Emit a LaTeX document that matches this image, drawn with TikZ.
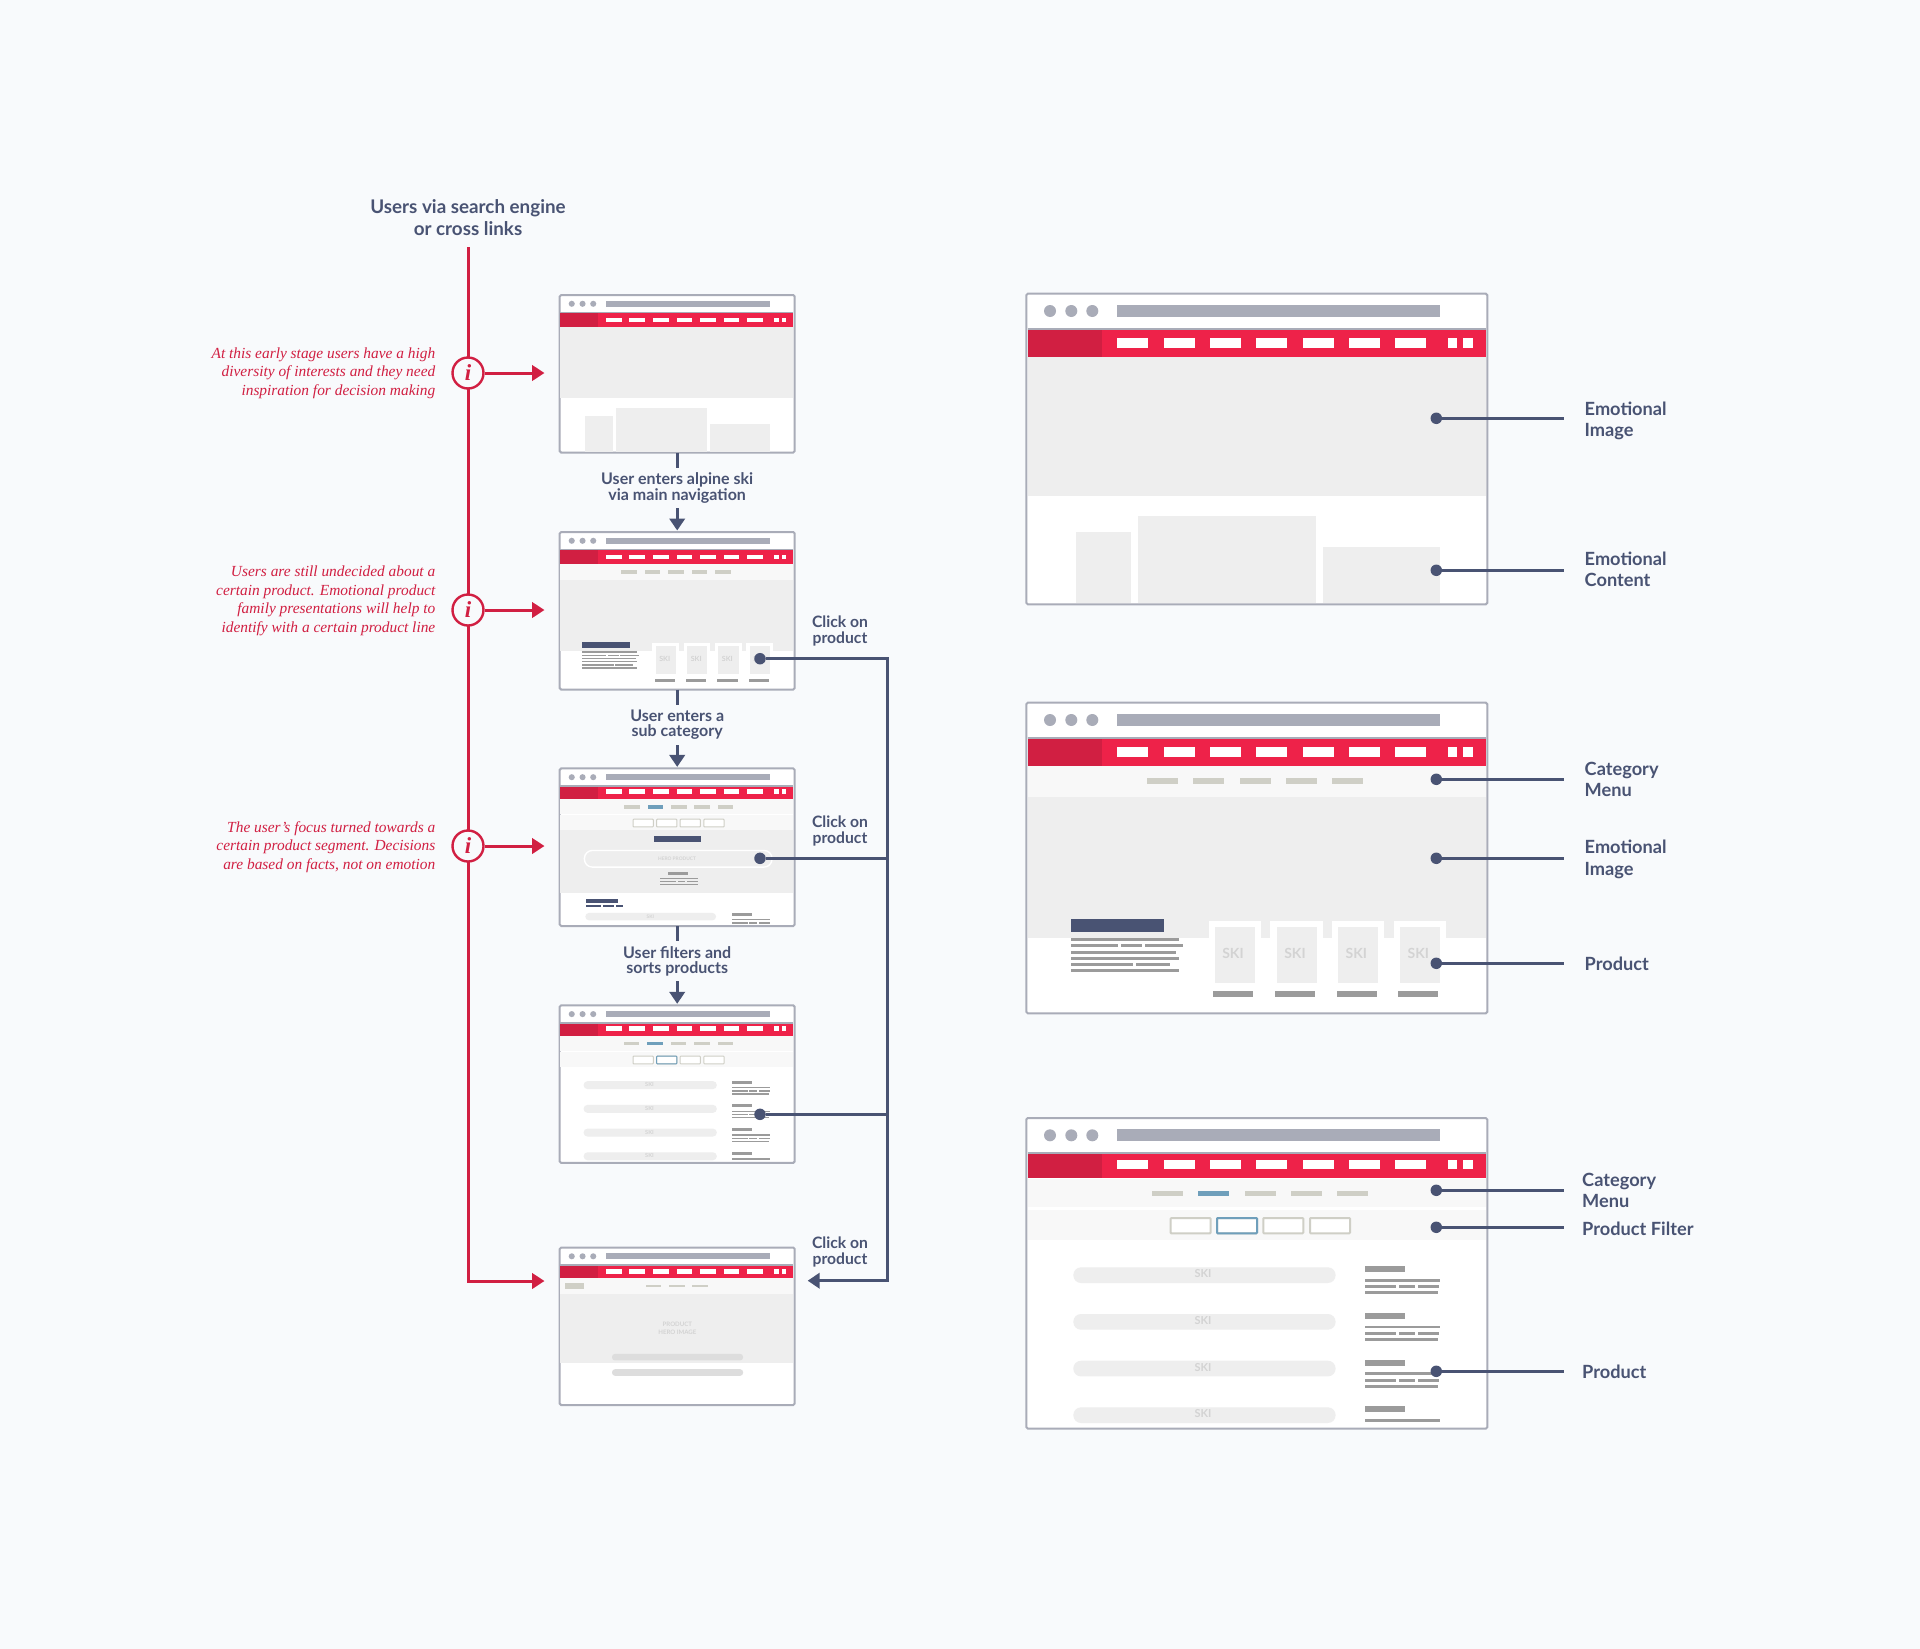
\documentclass[tikz,border=0pt]{standalone}
\usepackage{fontspec}
\setmainfont{Lato}
\newfontfamily\notefont{Liberation Serif}
\definecolor{pagebg}{HTML}{F8FAFC}
\definecolor{slate}{HTML}{495373}
\definecolor{crimson}{HTML}{D11F42}
\definecolor{signal}{HTML}{EE2249}
\definecolor{wireline}{HTML}{A9ACB8}
\definecolor{wirepanel}{HTML}{EEEEEE}
\definecolor{wireband}{HTML}{F8F8F8}
\definecolor{wirerule}{HTML}{9B9B9B}
\definecolor{wiremute}{HTML}{CFCFC6}
\definecolor{wireblue}{HTML}{6F9FBB}
\definecolor{wiretext}{HTML}{D3D3D3}
\definecolor{wirepill}{HTML}{DDDDDD}
\usetikzlibrary{arrows.meta,positioning}
\tikzset{
  shotbig/.style={draw=wireline,fill=white,line width=2pt,rounded corners=1.5pt,inner sep=0pt,outer sep=0pt,minimum width=461pt,minimum height=310.6pt},
  shotsmall/.style={shotbig,minimum width=235pt,minimum height=157.6pt},
  thumb/.style={scale=0.508,filterpen/.style={line width=1pt},rowpill/.style={rounded corners=3.9pt}},
  filterpen/.style={line width=2pt},
  rowpill/.style={rounded corners=7.7pt},
  skitext/.style={transform shape,text=wiretext,inner sep=0pt,font=\bfseries\fontsize{14}{14}\selectfont},
  flowline/.style={slate,line width=2.8pt},
  flowarrow/.style={flowline,-{Triangle[length=12pt,width=15.4pt]}},
  infoline/.style={crimson,line width=3pt},
  infoarrow/.style={infoline,-{Triangle[length=12.5pt,width=15.4pt]}},
  infomark/.style={circle,draw=crimson,fill=pagebg,line width=2.4pt,minimum size=31pt,inner sep=0pt,text=crimson,font=\notefont\bfseries\itshape\fontsize{23}{23}\selectfont},
  infonote/.style={anchor=east,align=right,inner sep=0pt,text=crimson,font=\notefont\itshape\fontsize{15.4}{18.7}\selectfont},
  headnote/.style={align=center,inner sep=0pt,text=slate,font=\bfseries\fontsize{18.8}{22}\selectfont},
  stepnote/.style={align=center,inner sep=0pt,minimum height=40pt,text=slate,font=\bfseries\fontsize{16}{15.6}\selectfont},
  clicknote/.style={align=center,inner sep=0pt,text=slate,font=\bfseries\fontsize{15.7}{16}\selectfont},
  pindot/.style={circle,fill=slate,minimum size=11.5pt,inner sep=0pt},
  pinline/.style={slate,line width=2.6pt},
  pinlabel/.style={anchor=west,align=left,inner ysep=0pt,inner xsep=20.5pt,text=slate,font=\bfseries\fontsize{18.2}{21.5}\selectfont},
}
% browser head with red bar, #1 is the lower edge of the bar
\newcommand{\wirehead}[1]{
  \foreach \x in {23.7,45,66} \fill[wireline] (\x,17.3) circle (6);
  \fill[wireline] (90.7,11.3) rectangle (413.7,23.3);
  \draw[wireline,line width=2pt] (1.3,35) -- (459.3,35);
  \fill[signal] (1.3,36) rectangle (459.3,#1);
  \fill[crimson] (1.3,36) rectangle (75.3,#1);
  \foreach \x in {91,137.3,183.7,230,276.3,322.7,369} \fill[white] (\x,#1-18.5) rectangle ++(31,9.5);
  \fill[white] (421.7,#1-18.5) rectangle ++(9,9.5);
  \fill[white] (437,#1-18.5) rectangle ++(9.3,9.5);
}
% product text block on the right of a list row
\newcommand{\wireblurb}[1]{
  \fill[wirerule] (338.7,148.3+#1) rectangle (379,154.3+#1);
  \foreach \a/\b/\y in {338.7/414/162.3, 338.7/369.7/168.7, 373/388.3/168.7, 391.7/413/168.7, 338.7/412/174.7}
    \fill[wirerule] (\a,\y-1.4+#1) rectangle (\b,\y+1.4+#1);
}
\newcommand{\wirefilter}[1]{
  \fill[wireband] (1.3,92.3) rectangle (459.3,122);
  \foreach \x in {144.3,190.7,237,283.7} \draw[wiremute,filterpen,fill=white,rounded corners=0.8pt] (\x,100) rectangle ++(40,15.3);
  #1
}
\newcommand{\wirehome}{
  \wirehead{63}
  \fill[wirepanel] (1.3,63) rectangle (459.3,202.3);
  \fill[wirepanel] (50,238.3) rectangle (104.3,309);
  \fill[wirepanel] (111.7,222.3) rectangle (290,309);
  \fill[wirepanel] (296.7,253.7) rectangle (413.7,309);
}
\newcommand{\wirecategory}{
  \wirehead{63}
  \fill[wireband] (1.3,63) rectangle (459.3,94);
  \foreach \x in {120.7,167,213.4,259.7,306} \fill[wiremute] (\x,75.7) rectangle ++(31,6);
  \fill[wirepanel] (1.3,94) rectangle (459.3,235);
  \fill[slate] (44.7,216.3) rectangle (137.7,229);
  \foreach \a/\b/\y in {44.7/153/236.7, 44.7/91.3/243, 94.3/116/243, 119/156.3/243, 44.7/149.7/249.3,
    44.7/153/255.3, 44.7/106.7/261.7, 109.7/143.7/261.7, 44.7/153/268}
    \fill[wirerule] (\a,\y-1.5) rectangle (\b,\y+1.5);
  \foreach \i/\x/\t in {1/182.3/206.7, 2/244/268.7, 3/305.7/330, 4/367.3/392} {
    \fill[white] (\x,218) rectangle ++(52.4,30);
    \fill[wirepanel] (\x+6.4,224.3) rectangle ++(40,56);
    \fill[wirerule] (\x+4.7,288.7) rectangle ++(40,5.6);
    \node[skitext] (skicard\i) at (\t,250.7) {SKI};
  }
}
\newcommand{\wirelist}{
  \wirehead{60}
  \fill[wireband] (1.3,61) rectangle (459.3,89);
  \foreach \x in {125.7,172,218.4,264.7,311} \fill[wiremute] (\x,72.7) rectangle ++(31,5.7);
  \fill[wireblue] (172,72.7) rectangle ++(31,5.7);
  \wirefilter{\draw[wireblue,filterpen,rounded corners=0.8pt] (190.7,100) rectangle ++(40,15.3);}
  \foreach \i/\r in {1/0,2/46.7,3/93.4,4/140} {
    \fill[wirepanel,rowpill] (47,149.3+\r) rectangle (309.3,165+\r);
    \node[skitext,font=\bfseries\fontsize{11}{11}\selectfont] (skirow\i) at (176.7,156+\r) {SKI};
  }
  \foreach \r in {0,46.7,93.4} { \wireblurb{\r} }
  \fill[wirerule] (338.7,288.3) rectangle (379,294.3);
  \fill[wirerule] (338.7,301) rectangle (414,303.8);
}
\newcommand{\wiresegment}{
  \wirehead{60}
  \fill[wireband] (1.3,61) rectangle (459.3,89);
  \foreach \x in {127,173,219,265,311} \fill[wiremute] (\x,73) rectangle ++(31,6);
  \fill[wireblue] (173,73) rectangle ++(31,6);
  \wirefilter{}
  \fill[wirepanel] (1.3,122) rectangle (459.3,246);
  \fill[slate] (186.4,133.9) rectangle (277.6,145.7);
  \draw[white,fill=wirepanel,line width=1.4pt,rounded corners=8pt] (48.6,161.5) rectangle (418,194.3);
  \node[skitext,font=\bfseries\fontsize{9.5}{9.5}\selectfont] (heropill) at (231,177.5) {HERO PRODUCT};
  \fill[wirerule] (213,204) rectangle (253,210);
  \foreach \a/\b/\y in {198/272/216.5, 198/229/222.4, 232/247/222.4, 251/272/222.4, 198/272/229}
    \fill[wirerule] (\a,\y-1.4) rectangle (\b,\y+1.4);
  \fill[slate] (51,257) rectangle (115.5,265.7);
  \foreach \a/\b in {51/82, 85.6/106.6, 110.5/125} \fill[slate] (\a,269.6) rectangle (\b,272.4);
  \fill[wirepanel,rounded corners=3.5pt] (50.5,284.6) rectangle (307.7,299);
  \node[skitext,font=\bfseries\fontsize{9.5}{9.5}\selectfont] (skislim) at (178.5,291.8) {SKI};
  \fill[wirerule] (339,285) rectangle (378.6,290);
  \fill[wirerule] (339,296) rectangle (413,299);
  \foreach \a/\b in {339/370, 373/388, 392/413} \fill[wirerule] (\a,302.6) rectangle (\b,305.4);
}
\newcommand{\wireproduct}{
  \wirehead{60.3}
  \fill[wireband] (1.3,60.3) rectangle (459.3,92);
  \fill[wiremute] (11,70.2) rectangle (48.6,82);
  \foreach \x in {169.3,215,261} \fill[wiremute] (\x,73) rectangle ++(31,5.4);
  \fill[wirepanel] (1.3,92) rectangle (459.3,228.3);
  \node[skitext,align=center,font=\bfseries\fontsize{12}{16}\selectfont] (heroimage) at (231.6,159) {PRODUCT\\HERO IMAGE};
  \fill[wirepill,rounded corners=3pt] (103,209.3) rectangle (361,222.4);
  \fill[wirepill,rounded corners=3pt] (103,239.5) rectangle (361,252.6);
}
\begin{document}
\begin{tikzpicture}[x=1pt,y=-1pt]
  \useasboundingbox (0,0) rectangle (1920,1649);
  \fill[pagebg] (0,0) rectangle (1920,1649);
  % Journey on the left
  \node[shotsmall] (homeshot) at (677.2,373.8) {};
  \node[shotsmall] (alpineshot) at (677.2,610.8) {};
  \node[shotsmall] (segmentshot) at (677.2,847.2) {};
  \node[shotsmall] (listshot) at (677.2,1084.1) {};
  \node[shotsmall] (productshot) at (677.2,1326.3) {};
  \begin{scope}[shift={(homeshot.north west)},thumb] \wirehome \end{scope}
  \begin{scope}[shift={(alpineshot.north west)},thumb] \wirecategory \end{scope}
  \begin{scope}[shift={(segmentshot.north west)},thumb] \wiresegment \end{scope}
  \begin{scope}[shift={(listshot.north west)},thumb] \wirelist \end{scope}
  \begin{scope}[shift={(productshot.north west)},thumb] \wireproduct \end{scope}
  % Steps between the shots
  \node[stepnote,below=15pt of homeshot] (alpinestep) {User enters alpine ski\\via main navigation};
  \node[stepnote,below=15pt of alpineshot] (subcatstep) {User enters a\\sub category};
  \node[stepnote,below=15pt of segmentshot] (filterstep) {User filters and\\sorts products};
  \draw[flowline] (homeshot) -- (alpinestep);
  \draw[flowarrow,shorten >=1.5pt] (alpinestep) -- (alpineshot);
  \draw[flowline] (alpineshot) -- (subcatstep);
  \draw[flowarrow,shorten >=1.5pt] (subcatstep) -- (segmentshot);
  \draw[flowline] (segmentshot) -- (filterstep);
  \draw[flowarrow,shorten >=1.5pt] (filterstep) -- (listshot);
  % Red path with the notes
  \node[headnote] (usershead) at (468,217.5) {Users via search engine\\or cross links};
  \coordinate (usersfoot) at (468,247);
  \coordinate (productred) at (544.5,1281);
  \draw[infoarrow] (usersfoot) |- (productred);
  \foreach \i/\y in {1/373,2/610,3/846} {
    \node[infomark] (info\i) at (468,\y) {i};
    \coordinate (infotip\i) at (544.5,\y);
    \draw[infoarrow] (info\i) -- (infotip\i);
  }
  \node[infonote] (note1) at (435.5,373) {At this early stage users have a high\\diversity of interests and they need\\inspiration for decision making};
  \node[infonote] (note2) at (435.5,600.7) {Users are still undecided about a\\certain product. Emotional product\\family presentations will help to\\identify with a certain product line};
  \node[infonote] (note3) at (435.5,847) {The user’s focus turned towards a\\certain product segment. Decisions\\are based on facts, not on emotion};
  % Click paths into the product page
  \node[pindot] (clickcard) at (760,658.7) {};
  \node[pindot] (clickhero) at (760,858.3) {};
  \node[pindot] (clickrow) at (760,1114.3) {};
  \coordinate (busturn) at (887.3,658.7);
  \coordinate (busfoot) at (887.3,1280.7);
  \coordinate (productin) at (807.7,1280.7);
  \draw[flowarrow,line join=miter] (clickcard) -- (busturn) -- (busfoot) -- (productin);
  \draw[flowline] (clickhero) -- (clickhero -| busturn);
  \draw[flowline] (clickrow) -- (clickrow -| busturn);
  \node[clicknote] (clicknote1) at (840,631) {Click on\\product};
  \node[clicknote] (clicknote2) at (840,831.3) {Click on\\product};
  \node[clicknote] (clicknote3) at (840,1252.3) {Click on\\product};
  % Big shots on the right
  \node[shotbig] (homebig) at (1256.8,449) {};
  \node[shotbig] (categorybig) at (1256.8,858) {};
  \node[shotbig] (listbig) at (1256.8,1273.3) {};
  \begin{scope}[shift={(homebig.north west)}] \wirehome \end{scope}
  \begin{scope}[shift={(categorybig.north west)}] \wirecategory \end{scope}
  \begin{scope}[shift={(listbig.north west)}] \wirelist \end{scope}
  % Pins and labels
  \foreach \n/\y/\d/\t in {imagea/418.3/-2.5/Emotional\\Image, contenta/570.3/1/Emotional\\Content,
    menub/779.3/0/Category\\Menu, imageb/858.3/-1/Emotional\\Image, productb/963.3/0/Product} {
    \node[pindot] (pin\n) at (1436.3,\y) {};
    \node[pinlabel,yshift=\d pt] (label\n) at (1564,\y) {\t};
    \draw[pinline] (pin\n) -- (pin\n -| label\n.west);
  }
  \foreach \n/\y/\d/\t in {menuc/1190.3/0/Category\\Menu, filterc/1227.3/-1/Product Filter, productc/1371.3/-0.6/Product} {
    \node[pindot] (pin\n) at (1436.3,\y) {};
    \node[pinlabel,inner xsep=18pt,yshift=\d pt] (label\n) at (1564,\y) {\t};
    \draw[pinline] (pin\n) -- (pin\n -| label\n.west);
  }
\end{tikzpicture}
\end{document}
